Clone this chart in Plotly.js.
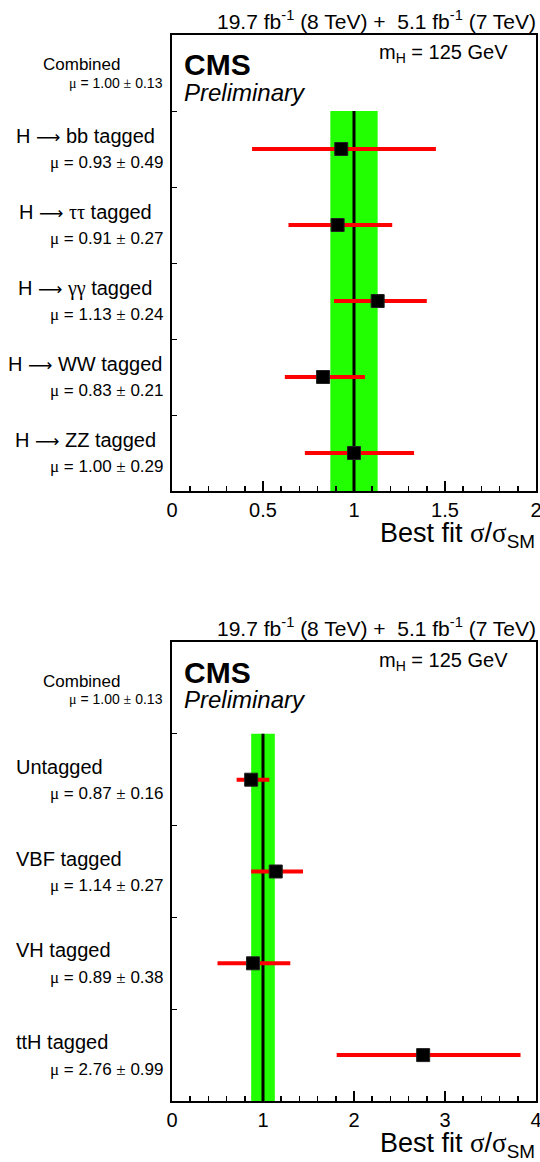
<!DOCTYPE html>
<html>
<head>
<meta charset="utf-8">
<script src="https://cdn.plot.ly/plotly-3.0.1.min.js"></script>
<style>html,body{margin:0;padding:0;background:#fff;}#plot{width:540px;height:1162px;}</style>
</head>
<body>
<div id="plot"></div>
<script>
// ---- data ----
var combMu = 1.00;
var combErr = 0.13;

var decayCats = ["H \u27f6 bb tagged", "H \u27f6 \u03c4\u03c4 tagged", "H \u27f6 \u03b3\u03b3 tagged", "H \u27f6 WW tagged", "H \u27f6 ZZ tagged"];
var decayMu = [0.93, 0.91, 1.13, 0.83, 1.00];
var decayErr = [0.49, 0.27, 0.24, 0.21, 0.29];
var decayErrLo = [0.49, 0.27, 0.24, 0.21, 0.27];
var decayErrHi = [0.52, 0.30, 0.27, 0.23, 0.33];

var prodCats = ["Untagged", "VBF tagged", "VH tagged", "ttH tagged"];
var prodMu = [0.87, 1.14, 0.89, 2.76];
var prodErr = [0.16, 0.27, 0.38, 0.99];
var prodErrLo = [0.16, 0.27, 0.39, 0.95];
var prodErrHi = [0.20, 0.30, 0.41, 1.07];

var topXRange = [0, 2];
var botXRange = [0, 4];
var lumiText = "19.7 fb<sup>-1</sup>\u00a0(8 TeV) +\u00a0\u00a05.1 fb<sup>-1</sup>\u00a0(7 TeV)";

// ---- layout helpers ----
var W = 540, H = 1162;
function px(x) { return x / W; }
function py(y) { return 1 - y / H; }
var FONT = "Liberation Sans, Arial, Helvetica, sans-serif";
var SERIF = "Liberation Serif";
var GREEN = "#22ff00";

function greek(s) {
  return s.replace(/([\u03b1-\u03c9\u00b1]+)/g, '<span style="font-family:' + SERIF + '">$1</span>')
          .replace(/\u27f6/g, '<span style="font-family:DejaVu Sans;font-size:17px">\u27f6</span>');
}
function muText(m, e) { return greek("\u03bc = " + m.toFixed(2) + " \u00b1 " + e.toFixed(2)); }

function yPos(n, i) { return (n - 1 - i) + 0.5; }

var traces = [];
var shapes = [];
var annotations = [];

function panel(cats, mu, err, lo, hi, xa, ya, yTop, labelMode, catShift, combShift) {
  var n = cats.length;
  var ys = cats.map(function (c, i) { return yPos(n, i); });
  traces.push({
    type: "scatter", mode: "markers", x: mu, y: ys, xaxis: xa, yaxis: ya,
    marker: { symbol: "square", size: 13, color: "#000", line: { color: "#222", width: 1 } },
    error_x: { type: "data", symmetric: false, array: hi, arrayminus: lo, color: "#ff0000", thickness: 4, width: 0 },
    hoverinfo: "skip", showlegend: false, cliponaxis: false
  });
  shapes.push({ type: "rect", xref: xa, yref: ya, x0: combMu - combErr, x1: combMu + combErr, y0: 0, y1: n,
    fillcolor: GREEN, line: { width: 0 }, layer: "below" });
  shapes.push({ type: "line", xref: xa, yref: ya, x0: combMu, x1: combMu, y0: 0, y1: n,
    line: { color: "#000", width: 3 }, layer: "below" });
  cats.forEach(function (c, i) {
    var y = ys[i];
    annotations.push({ xref: "paper", yref: ya, x: labelMode === "center" ? px(85) : px(14), y: y,
      xanchor: labelMode === "center" ? "center" : "left", yanchor: "middle", yshift: catShift[0],
      text: greek(c), showarrow: false, font: { family: FONT, size: 20, color: "#000" } });
    annotations.push({ xref: "paper", yref: ya, x: px(165), y: y, xanchor: "right", yanchor: "middle", yshift: catShift[1],
      text: muText(mu[i], err[i]), showarrow: false,
      font: { family: FONT, size: 17, color: "#000" } });
  });
  annotations.push({ xref: "paper", yref: ya, x: px(82), y: n + 0.5, xanchor: "center", yanchor: "middle", yshift: combShift[0],
    text: "Combined", showarrow: false, font: { family: FONT, size: 17, color: "#000" } });
  annotations.push({ xref: "paper", yref: ya, x: px(165), y: n + 0.5, xanchor: "right", yanchor: "middle", yshift: combShift[1],
    text: muText(combMu, combErr), showarrow: false,
    font: { family: FONT, size: 14, color: "#000" } });
  annotations.push({ xref: "paper", yref: "paper", x: px(538), y: py(yTop - 15), xanchor: "right", yanchor: "middle",
    text: lumiText, showarrow: false, font: { family: FONT, size: 21, color: "#000" } });
  annotations.push({ xref: "paper", yref: "paper", x: px(182), y: py(yTop + 30), xanchor: "left", yanchor: "middle",
    text: "<b>CMS</b>", showarrow: false, font: { family: FONT, size: 30, color: "#000" } });
  annotations.push({ xref: "paper", yref: "paper", x: px(182), y: py(yTop + 57), xanchor: "left", yanchor: "middle",
    text: "<i>Preliminary</i>", showarrow: false, font: { family: FONT, size: 24, color: "#000" } });
  annotations.push({ xref: "paper", yref: "paper", x: px(510), y: py(yTop + 19), xanchor: "right", yanchor: "middle",
    text: "m<sub>H</sub> = 125 GeV", showarrow: false, font: { family: FONT, size: 20, color: "#000" } });
}

panel(decayCats, decayMu, decayErr, decayErrLo, decayErrHi, "x", "y", 35, "center", [13, -13], [9, -10]);
panel(prodCats, prodMu, prodErr, prodErrLo, prodErrHi, "x2", "y2", 642, "left", [13, -14], [6, -11]);

var axisTitle = "Best fit " + greek("\u03c3") + "/" + greek("\u03c3") + "<sub>SM</sub>";
annotations.push({ xref: "paper", yref: "paper", x: px(537), y: py(535), xanchor: "right", yanchor: "middle",
  text: axisTitle, showarrow: false, font: { family: FONT, size: 27, color: "#000" } });
annotations.push({ xref: "paper", yref: "paper", x: px(537), y: py(1145), xanchor: "right", yanchor: "middle",
  text: axisTitle, showarrow: false, font: { family: FONT, size: 27, color: "#000" } });

function xAxis(range, major, minorD, anchor) {
  return {
    domain: [px(172), px(536)], range: range, anchor: anchor,
    showline: true, mirror: true, linecolor: "#000", linewidth: 2,
    showgrid: false, zeroline: false,
    tickmode: "linear", tick0: 0, dtick: major,
    ticks: "inside", ticklen: 10, tickwidth: 1.5, tickcolor: "#000",
    minor: { tickmode: "linear", tick0: 0, dtick: minorD, ticks: "inside", ticklen: 5, tickwidth: 1.5, tickcolor: "#000", showgrid: false },
    tickfont: { family: FONT, size: 20, color: "#000" }, ticklabelstandoff: 0,
    ticklabeloverflow: "allow",
    fixedrange: true
  };
}
function yAxis(top, bottom, range, anchor) {
  return {
    domain: [py(bottom), py(top)], range: range, anchor: anchor,
    showline: true, mirror: true, linecolor: "#000", linewidth: 2,
    showgrid: false, zeroline: false, showticklabels: false,
    tickmode: "linear", tick0: 0, dtick: 1,
    ticks: "inside", ticklen: 5, tickwidth: 1, tickcolor: "#000",
    fixedrange: true
  };
}

var layout = {
  width: W, height: H,
  margin: { l: 0, r: 0, t: 0, b: 0 },
  paper_bgcolor: "#fff", plot_bgcolor: "#fff",
  showlegend: false,
  xaxis: xAxis(topXRange, 0.5, 0.1, "y"),
  yaxis: yAxis(35, 491, [0, 6], "x"),
  xaxis2: xAxis(botXRange, 1, 0.2, "y2"),
  yaxis2: yAxis(642, 1101, [0, 5], "x2"),
  shapes: shapes,
  annotations: annotations
};

Plotly.newPlot("plot", traces, layout, { staticPlot: true, displayModeBar: false });
</script>
</body>
</html>
